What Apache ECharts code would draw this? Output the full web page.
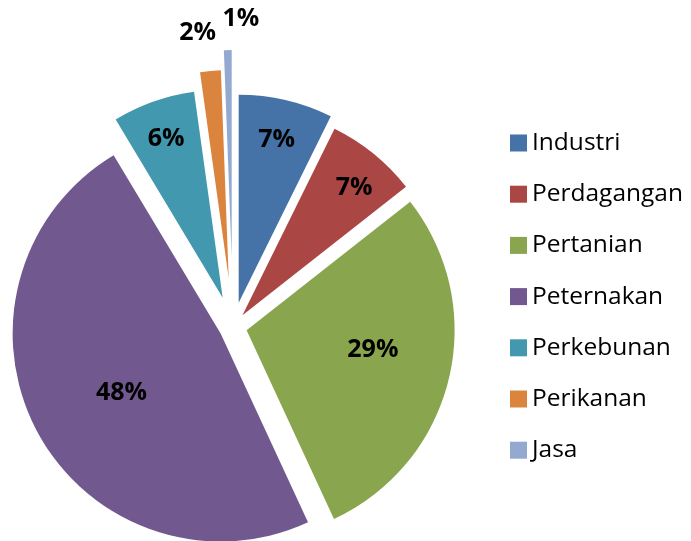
<!DOCTYPE html>
<html>
<head>
<meta charset="utf-8">
<script src="https://cdn.jsdelivr.net/npm/echarts@6/dist/echarts.min.js"></script>
<style>
  html, body { margin: 0; padding: 0; background: #fff; }
  #chart { width: 691px; height: 541px; }
</style>
</head>
<body>
<div id="chart"></div>
<script>
'use strict'

const names = ['Industri', 'Perdagangan', 'Pertanian', 'Peternakan', 'Perkebunan', 'Perikanan', 'Jasa']
const values = [7.3, 7.1, 28.7, 48.3, 6.4, 1.6, 0.6]

// styling only
const colors = ['#4572A7', '#AA4643', '#89A54E', '#71588F', '#4198AF', '#DB843D', '#93A9CF']
const explode = [25, 15, 14, 14, 31, 49, 69]                // px each slice is pulled out
const labelAt = [0.79, 0.80, 0.6, 0.54, 0.796, 1.175, 1.135]  // label distance, share of radius
const labelTurn = [0, 2.2, -4.7, -2.9, -0.2, -2.2, 3.3]       // small angle nudge for labels, deg
const R = 208

const total = values.reduce((a, b) => a + b, 0)

function midAngle(i) {
    let s = 0
    for (let k = 0; k < i; k++) s += values[k]
    return (s + values[i] / 2) / total * Math.PI * 2
}

// one pie per explode distance, the other slices kept invisible so angles stay the same
const groups = [...new Set(explode)]

const series = groups.map(off => ({
    type: 'pie',
    center: [233, 327],
    radius: R,
    startAngle: 90,
    selectedMode: 'multiple',
    selectedOffset: off,
    animation: false,
    emphasis: { disabled: true },
    label: {
        position: 'inside',
        color: '#000',
        fontFamily: 'Open Sans',
        fontWeight: 'bold',
        fontSize: 25,
        formatter: p => Math.round(p.percent) + '%'
    },
    labelLine: { show: false },
    labelLayout: function (p) {
        const i = p.dataIndex
        const a = midAngle(i)
        const b = a + labelTurn[i] * Math.PI / 180
        const d = labelAt[i] * R
        return {
            dx: d * Math.sin(b) - R / 2 * Math.sin(a),
            dy: -d * Math.cos(b) + R / 2 * Math.cos(a)
        }
    },
    data: names.map((n, i) => {
        const mine = explode[i] === off
        return {
            name: n,
            value: values[i],
            selected: mine,
            itemStyle: { color: colors[i], opacity: mine ? 1 : 0 },
            label: { show: mine }
        }
    })
}))

const chart = echarts.init(document.getElementById('chart'))
chart.setOption({
    backgroundColor: '#fff',
    animation: false,
    legend: {
        orient: 'vertical',
        left: 510,
        top: 130.5,
        padding: 0,
        icon: 'rect',
        itemWidth: 17,
        itemHeight: 17,
        itemGap: 26.2,
        selectedMode: false,
        textStyle: {
            color: '#000',
            fontFamily: 'Open Sans',
            fontSize: 24.5,
            lineHeight: 24
        },
        data: names.map((n, i) => ({ name: n, itemStyle: { color: colors[i], opacity: 1 } }))
    },
    series: series
})
</script>
</body>
</html>
